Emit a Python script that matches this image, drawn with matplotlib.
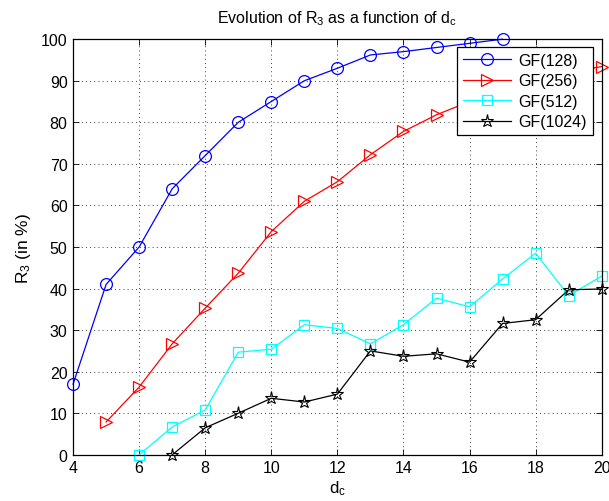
import matplotlib
matplotlib.use('Agg')
import matplotlib.pyplot as plt

plt.rcParams['font.family'] = ['Liberation Sans', 'DejaVu Sans']
plt.rcParams['mathtext.default'] = 'regular'

# values
dc_128 = list(range(4, 18))
r3_128 = [17, 41, 50, 64, 72, 80, 85, 90, 93, 96.2, 97, 98, 99, 100]

dc_256 = list(range(5, 21))
r3_256 = [7.9, 16.3, 26.7, 35.3, 43.7, 53.7, 61, 65.7, 72.2, 77.8, 81.8,
          85, 88, 90.5, 92, 93.4]

dc_512 = list(range(6, 21))
r3_512 = [0, 6.7, 10.8, 24.7, 25.4, 31.3, 30.4, 26.7, 31.3, 37.7, 35.6,
          42.3, 48.5, 38.3, 43.0]

dc_1024 = list(range(7, 21))
r3_1024 = [0, 6.5, 10.0, 13.6, 12.7, 14.6, 25.0, 23.7, 24.3, 22.3, 31.6,
           32.5, 39.7, 39.9]

fig = plt.figure(figsize=(6.09, 5.02), dpi=100)
ax = fig.add_axes([0.120, 0.092, 0.868, 0.828])

style = dict(lw=0.9, markerfacecolor='none', clip_on=False)
ax.plot(dc_128, r3_128, color='#0000ff', marker='o', ms=8.5, mew=0.9,
        label='GF(128)', **style)
ax.plot(dc_256, r3_256, color='#ff0000', marker='>', ms=8.5, mew=0.9,
        label='GF(256)', **style)
ax.plot(dc_512, r3_512, color='#00ffff', marker='s', ms=7, mew=0.9,
        label='GF(512)', **style)
ax.plot(dc_1024, r3_1024, color='black', marker='*', ms=9.5, mew=0.8,
        label='GF(1024)', **style)

ax.set_xlim(4, 20)
ax.set_ylim(0, 100)
ax.set_xticks(range(4, 21, 2))
ax.set_yticks(range(0, 101, 10))
ax.tick_params(direction='in', top=True, right=True, labelsize=11.5,
               length=4, width=0.6, pad=4)
ax.grid(True, color='black', linestyle=(0, (1, 4)), linewidth=0.6)
for s in ax.spines.values():
    s.set_linewidth(0.9)

ax.set_title('Evolution of R$_3$ as a function of d$_c$', fontsize=11.5, pad=12)
ax.set_xlabel('d$_c$', fontsize=12, labelpad=2)
ax.set_ylabel('R$_3$ (in %)', fontsize=12.5, labelpad=6)

leg = ax.legend(loc='upper right', bbox_to_anchor=(0.983, 0.981),
                fontsize=11.5, fancybox=False, framealpha=1,
                edgecolor='black', borderaxespad=0, handlelength=3.0,
                borderpad=0.35, labelspacing=0.35, handletextpad=0.5)
leg.get_frame().set_linewidth(0.9)
leg.set_zorder(5)

fig.savefig('out.png', dpi=100)
